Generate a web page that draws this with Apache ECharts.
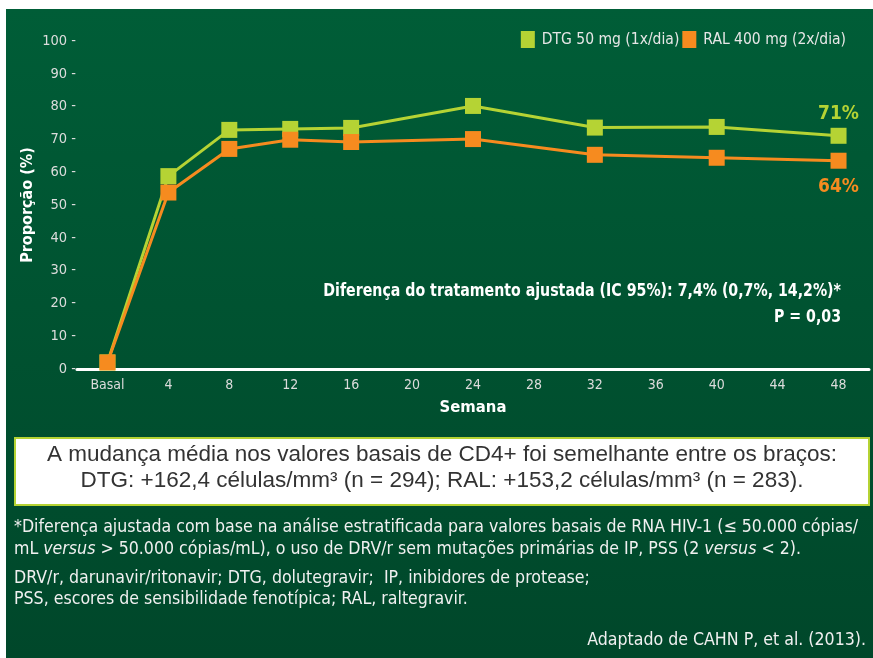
<!DOCTYPE html>
<html>
<head>
<meta charset="utf-8">
<script src="https://cdn.jsdelivr.net/npm/echarts@6/dist/echarts.min.js"></script>
<style>html,body{margin:0;padding:0;background:#fff}#c{width:873px;height:658px}</style>
</head>
<body>
<div id="c"></div>
<script>
const categories = ['Basal','4','8','12','16','20','24','28','32','36','40','44','48'];
const dtgValues = [2, 58.8, 72.9, 73.2, 73.5, null, 80.2, null, 73.6, null, 73.8, null, 71.1];
const ralValues = [2, 53.8, 67.1, 69.9, 69.2, null, 70.1, null, 65.3, null, 64.4, null, 63.5];
const seriesNames = ['DTG 50 mg (1x/dia)', 'RAL 400 mg (2x/dia)'];
const endLabels = ['71%', '64%'];

const NARROW = "'Liberation Sans Narrow','DejaVu Sans Condensed',sans-serif";
const LIME = '#b5d334', ORANGE = '#f68b1f';

const chart = echarts.init(document.getElementById('c'), null, {renderer: 'canvas'});

function endLabel(idx) {
  return function (p) { return p.dataIndex === categories.length - 1 ? endLabels[idx] : ''; };
}

const option = {
  animation: false,
  backgroundColor: '#ffffff',
  graphic: [
    {type: 'rect', z: -10, silent: true, shape: {x: 6, y: 9, width: 867, height: 649},
      style: {fill: new echarts.graphic.LinearGradient(0, 0, 0, 1, [{offset: 0, color: '#005d37'}, {offset: 1, color: '#00472a'}])}},
    {type: 'rect', z: 5, shape: {x: 15, y: 438, width: 854, height: 67},
      style: {fill: '#ffffff', stroke: LIME, lineWidth: 2}},
    {type: 'text', z: 6, x: 442, y: 455, style: {text: 'A mudança média nos valores basais de CD4+ foi semelhante entre os braços:',
      font: "22.5px 'Liberation Sans',sans-serif", fill: '#333333', align: 'center', verticalAlign: 'middle'}},
    {type: 'text', z: 6, x: 442, y: 481, style: {text: 'DTG: +162,4 células/mm³ (n = 294); RAL: +153,2 células/mm³ (n = 283).',
      font: "22.5px 'Liberation Sans',sans-serif", fill: '#333333', align: 'center', verticalAlign: 'middle'}},
    {type: 'text', z: 6, x: 841, y: 291, scaleX: 0.875, style: {text: 'Diferença do tratamento ajustada (IC 95%): 7,4% (0,7%, 14,2%)*',
      font: "bold 18px " + NARROW, fill: '#ffffff', align: 'right', verticalAlign: 'middle'}},
    {type: 'text', z: 6, x: 841, y: 317, scaleX: 0.875, style: {text: 'P = 0,03',
      font: "bold 18px " + NARROW, fill: '#ffffff', align: 'right', verticalAlign: 'middle'}},
    {type: 'text', z: 6, x: 14, y: 527, style: {
      text: '*Diferença ajustada com base na análise estratificada para valores basais de RNA HIV-1 (≤ 50.000 cópias/',
      font: "17.6px " + NARROW, fill: '#f0f0f0', verticalAlign: 'middle'}},
    {type: 'text', z: 6, x: 14, y: 549, style: {
      text: 'mL {i|versus} > 50.000 cópias/mL), o uso de DRV/r sem mutações primárias de IP, PSS (2 {i|versus} < 2).',
      font: "17.6px " + NARROW, fill: '#f0f0f0', verticalAlign: 'middle',
      rich: {i: {fontStyle: 'italic', fontSize: 17.6, fontFamily: NARROW, fill: '#f0f0f0'}}}},
    {type: 'text', z: 6, x: 14, y: 578, style: {
      text: 'DRV/r, darunavir/ritonavir; DTG, dolutegravir;  IP, inibidores de protease;',
      font: "17.6px " + NARROW, fill: '#f0f0f0', verticalAlign: 'middle'}},
    {type: 'text', z: 6, x: 14, y: 599, style: {
      text: 'PSS, escores de sensibilidade fenotípica; RAL, raltegravir.',
      font: "17.6px " + NARROW, fill: '#f0f0f0', verticalAlign: 'middle'}},
    {type: 'text', z: 6, x: 866, y: 640, style: {
      text: 'Adaptado de CAHN P, et al. (2013).',
      font: "17.6px " + NARROW, fill: '#f0f0f0', align: 'right', verticalAlign: 'middle'}}
  ],
  legend: {
    data: seriesNames,
    top: 26, right: 22,
    icon: 'rect', itemWidth: 14, itemHeight: 17, itemGap: 3,
    textStyle: {color: '#e6e6e6', fontSize: 15.5, fontFamily: NARROW, padding: [0, 0, 0, 2]}
  },
  grid: {left: 77, right: 4, top: 41, bottom: 289},
  xAxis: {
    type: 'category', data: categories, boundaryGap: true,
    name: 'Semana', nameLocation: 'middle', nameGap: 30,
    nameTextStyle: {color: '#ffffff', fontWeight: 'bold', fontSize: 16.5, fontFamily: NARROW},
    axisLine: {lineStyle: {color: '#ffffff', width: 3}},
    axisTick: {alignWithLabel: true, length: 3, lineStyle: {color: '#b0b0b0'}},
    axisLabel: {color: '#dcdcdc', fontSize: 14, fontFamily: NARROW, margin: 9, interval: 0}
  },
  yAxis: {
    type: 'value', min: 0, max: 100, interval: 10,
    name: 'Proporção (%)', nameLocation: 'middle', nameGap: 41, nameRotate: 90, nameMoveOverlap: false,
    nameTextStyle: {color: '#ffffff', fontWeight: 'bold', fontSize: 16, fontFamily: NARROW},
    axisLine: {show: false}, axisTick: {show: false}, splitLine: {show: false},
    axisLabel: {color: '#dcdcdc', fontSize: 14.5, fontFamily: NARROW, margin: 1, formatter: '{value} -'}
  },
  series: [
    {name: seriesNames[0], type: 'line', data: dtgValues, connectNulls: true,
      symbol: 'rect', symbolSize: 16, itemStyle: {color: LIME}, lineStyle: {color: LIME, width: 3},
      label: {show: true, position: 'top', distance: 4, formatter: endLabel(0),
        color: LIME, fontWeight: 'bold', fontSize: 19, fontFamily: NARROW}, z: 2},
    {name: seriesNames[1], type: 'line', data: ralValues, connectNulls: true,
      symbol: 'rect', symbolSize: 16, itemStyle: {color: ORANGE}, lineStyle: {color: ORANGE, width: 3},
      label: {show: true, position: 'bottom', distance: 9, formatter: endLabel(1),
        color: ORANGE, fontWeight: 'bold', fontSize: 19, fontFamily: NARROW}, z: 3}
  ]
};
chart.setOption(option);
</script>
</body>
</html>
